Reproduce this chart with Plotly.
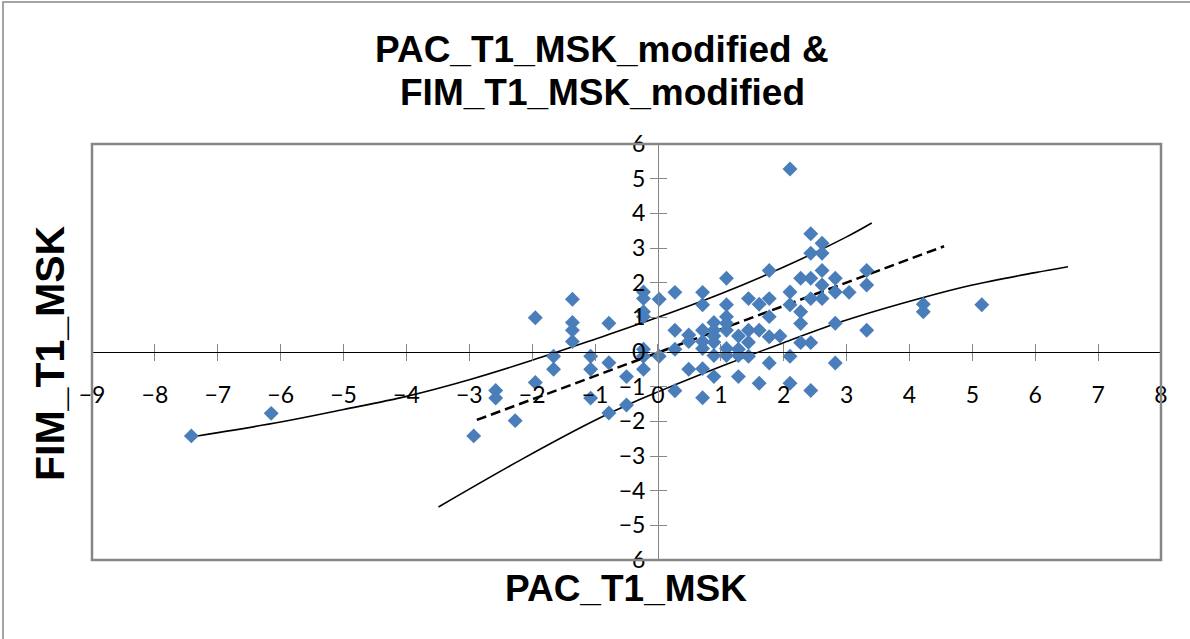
import plotly.graph_objects as go

# ---- data ----
pac_x = [-7.42, -6.15, -2.93, -2.58, -2.58, -2.27, -1.95, -1.95, -1.66, -1.66,
         -1.36, -1.36, -1.36, -1.36, -1.07, -1.07, -1.07, -0.78, -0.78, -0.78,
         -0.50, -0.50, -0.23, -0.23, -0.23, -0.23, -0.23, -0.23, -0.23, 0.02, 0.02,
         0.27, 0.27, 0.27, 0.27, 0.49, 0.49, 0.49,
         0.71, 0.71, 0.71, 0.71, 0.71, 0.71, 0.71,
         0.89, 0.89, 0.89, 0.89, 0.89, 0.89,
         1.09, 1.09, 1.09, 1.09, 1.09, 1.09, 1.09,
         1.28, 1.28, 1.28, 1.28, 1.44, 1.44, 1.44, 1.44, 1.61, 1.61, 1.61,
         1.77, 1.77, 1.77, 1.77, 1.77, 1.94,
         2.10, 2.10, 2.10, 2.10, 2.10, 2.27, 2.27, 2.27, 2.27,
         2.43, 2.43, 2.43, 2.43, 2.43, 2.43, 2.61, 2.61, 2.61, 2.61, 2.61,
         2.82, 2.82, 2.82, 2.82, 3.04, 3.32, 3.32, 3.32, 4.22, 4.22, 5.15]
fim_y = [-2.42, -1.77, -2.42, -1.11, -1.33, -1.98, 0.99, -0.88, -0.12, -0.50,
         1.52, 0.85, 0.63, 0.30, -0.12, -0.50, -1.33, 0.83, -0.31, -1.76,
         -0.71, -1.53, 1.73, 1.54, 1.16, 1.02, 0.08, -0.12, -0.50, 1.52, -0.12,
         1.72, 0.63, 0.08, -1.12, 0.49, 0.30, -0.50,
         1.72, 1.36, 0.63, 0.30, 0.10, -0.48, -1.32,
         0.85, 0.63, 0.46, 0.28, -0.10, -0.71,
         2.13, 1.36, 1.02, 0.83, 0.63, 0.10, -0.10,
         0.46, 0.08, -0.10, -0.71, 1.54, 0.63, 0.28, -0.12, 1.38, 0.63, -0.90,
         2.35, 1.54, 1.02, 0.44, -0.32, 0.46,
         5.28, 1.73, 1.36, -0.12, -0.90, 2.13, 1.16, 0.82, 0.27,
         3.41, 2.85, 2.13, 1.54, 0.27, -1.11, 3.14, 2.85, 2.35, 1.93, 1.54,
         2.13, 1.73, 0.83, -0.32, 1.72, 2.35, 1.93, 0.63, 1.38, 1.16, 1.36]

fit_x = [-2.88, 4.55]
fit_y = [-1.96, 3.05]

upper_x = [-7.49, -6.0, -5.0, -4.0, -3.0, -2.0, -1.0, 0.0, 1.0, 2.0, 3.0, 3.40]
upper_y = [-2.47, -2.02, -1.66, -1.28, -0.80, -0.24, 0.37, 1.00, 1.68, 2.45, 3.32, 3.72]

lower_x = [-3.49, -2.16, -1.0, -0.3, 0.0, 1.0, 2.0, 3.0, 4.22, 5.0, 6.0, 6.52]
lower_y = [-4.47, -3.09, -1.97, -1.38, -1.15, -0.42, 0.27, 0.92, 1.57, 1.93, 2.29, 2.46]

x_ticks = list(range(-9, 9))
y_ticks = list(range(-6, 7))

title_lines = ["PAC_T1_MSK_modified &", "FIM_T1_MSK_modified"]
x_title = "PAC_T1_MSK"
y_title = "FIM_T1_MSK"

# ---- styling ----
W, H = 1190, 639
L, R, T, B = 92, 29, 144, 79
PW, PH = W - L - R, H - T - B
GRAY = "#868686"
BLUE = "#4A7EBB"
TICKFONT = dict(family="Lato, Open Sans, sans-serif", size=23, color="black")
BOLD = "Liberation Sans, Arial, sans-serif"


def px(xp):
    return (xp - L) / PW


def py(yp):
    return (H - B - yp) / PH


fig = go.Figure()
fig.add_trace(go.Scatter(x=upper_x, y=upper_y, mode="lines", line=dict(color="black", width=1.6, shape="spline"),
                         hoverinfo="skip", showlegend=False))
fig.add_trace(go.Scatter(x=lower_x, y=lower_y, mode="lines", line=dict(color="black", width=1.6, shape="spline"),
                         hoverinfo="skip", showlegend=False))
fig.add_trace(go.Scatter(x=fit_x, y=fit_y, mode="lines", line=dict(color="black", width=2.5, dash="10px,5px"),
                         hoverinfo="skip", showlegend=False))
fig.add_trace(go.Scatter(x=pac_x, y=fim_y, mode="markers",
                         marker=dict(symbol="diamond", size=11.5, color=BLUE, line=dict(width=0)),
                         showlegend=False))
# invisible trace for overlay axes (cross ticks)
fig.add_trace(go.Scatter(x=[None], y=[None], xaxis="x2", yaxis="y2", showlegend=False, hoverinfo="skip"))

xpos = 9 / 17
common_x = dict(range=[-9, 8], tickvals=x_ticks, showgrid=False, zeroline=False, fixedrange=True)
common_y = dict(range=[-6, 6], tickvals=y_ticks, showgrid=False, zeroline=False, fixedrange=True)

fig.update_layout(
    width=W, height=H,
    margin=dict(l=L, r=R, t=T, b=B),
    paper_bgcolor="white", plot_bgcolor="white",
    xaxis=dict(**common_x, anchor="free", position=0.5, ticks="outside", ticklen=8, tickwidth=1,
               tickcolor=GRAY, showline=True, linecolor="black", linewidth=1,
               tickfont=TICKFONT, ticklabelstandoff=14),
    xaxis2=dict(**common_x, overlaying="x", anchor="free", position=0.5, ticks="inside", ticklen=8,
                tickwidth=1, tickcolor=GRAY, showline=False, showticklabels=False),
    yaxis=dict(**common_y, anchor="free", position=xpos, ticks="outside", ticklen=8, tickwidth=1,
               tickcolor=GRAY, showline=True, linecolor=GRAY, linewidth=1,
               tickfont=TICKFONT, ticksuffix="\u2002\u2002\u2002\u2009"),
    yaxis2=dict(**common_y, overlaying="y", anchor="free", position=xpos, ticks="inside", ticklen=8,
                tickwidth=1, tickcolor=GRAY, showline=False, showticklabels=False),
    shapes=[
        dict(type="rect", xref="paper", yref="paper", x0=0, x1=1, y0=0, y1=1,
             line=dict(color=GRAY, width=2.5), layer="above"),
        dict(type="rect", xref="paper", yref="paper",
             x0=px(3), x1=1.2, y0=-0.5, y1=py(2),
             line=dict(color=GRAY, width=1.5), layer="above"),
    ],
    annotations=[
        dict(text=title_lines[0], xref="paper", yref="paper", x=px(602), y=py(50),
             showarrow=False, xanchor="center", yanchor="middle",
             font=dict(family=BOLD, size=37, color="black", weight="bold")),
        dict(text=title_lines[1], xref="paper", yref="paper", x=px(602), y=py(92),
             showarrow=False, xanchor="center", yanchor="middle",
             font=dict(family=BOLD, size=37, color="black", weight="bold")),
        dict(text=x_title, xref="paper", yref="paper", x=px(626), y=py(588),
             showarrow=False, xanchor="center", yanchor="middle",
             font=dict(family=BOLD, size=37, color="black", weight="bold")),
        dict(text=y_title, xref="paper", yref="paper", x=px(50), y=py(353),
             showarrow=False, xanchor="center", yanchor="middle", textangle=-90,
             font=dict(family=BOLD, size=41, color="black", weight="bold")),
    ],
)

fig.write_html("out.html", config={"displayModeBar": False},
               post_script="document.body.style.margin='0';document.body.style.overflow='hidden';")
